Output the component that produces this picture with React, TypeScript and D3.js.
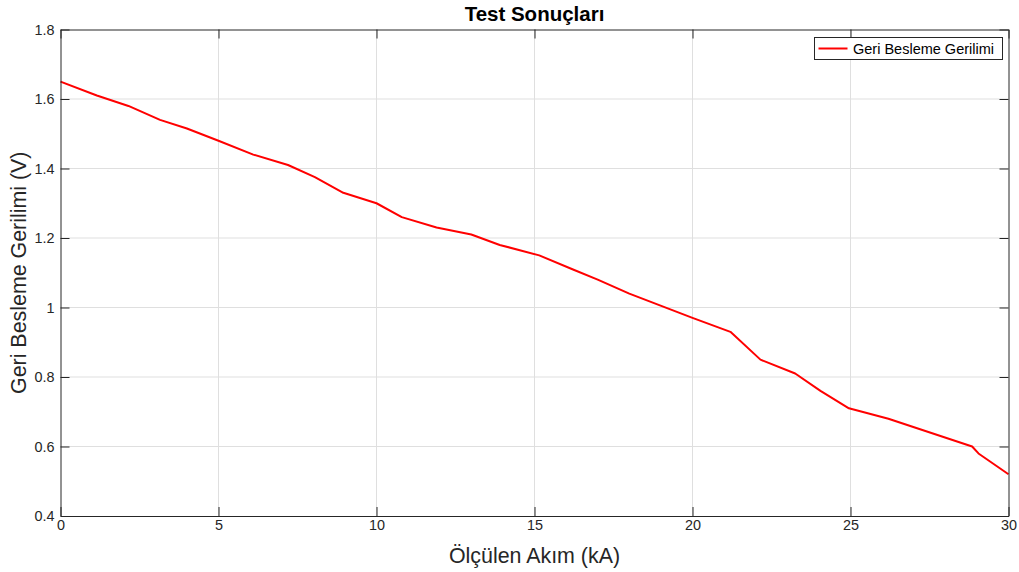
import React, { useEffect, useRef } from 'react';
import * as d3 from 'd3';

const current = [0, 1.15, 2.15, 3.15, 4.0, 5.0, 6.1, 7.2, 8.05, 8.95, 10.0, 10.8, 11.9, 13.0, 13.9, 15.15, 16.2, 17.0, 18.0, 20.0, 21.2, 22.15, 23.25, 24.05, 24.95, 26.2, 28.85, 29.05, 30.0];
const voltage = [1.65, 1.61, 1.58, 1.54, 1.515, 1.48, 1.44, 1.41, 1.375, 1.33, 1.30, 1.26, 1.23, 1.21, 1.18, 1.15, 1.11, 1.08, 1.04, 0.97, 0.93, 0.85, 0.81, 0.76, 0.71, 0.68, 0.60, 0.58, 0.52];
const xTicks = [0, 5, 10, 15, 20, 25, 30];
const yTicks = [0.4, 0.6, 0.8, 1.0, 1.2, 1.4, 1.6, 1.8];
const seriesName = 'Geri Besleme Gerilimi';

const App = () => {
  const ref = useRef<SVGSVGElement>(null);

  const width = 1019;
  const height = 572;
  const margin = { top: 29.5, right: 10.5, bottom: 56, left: 60.5 };
  const innerW = width - margin.left - margin.right;
  const innerH = height - margin.top - margin.bottom;

  useEffect(() => {
    const svg = d3.select(ref.current);
    svg.selectAll('*').remove();

    const font = 'Liberation Sans, Arial, Helvetica, sans-serif';
    const axisColor = '#262626';

    const x = d3.scaleLinear().domain([0, 30]).range([0, innerW]);
    const y = d3.scaleLinear().domain([0.4, 1.8]).range([innerH, 0]);

    const g = svg.append('g')
      .attr('transform', 'translate(' + margin.left + ',' + margin.top + ')');

    // grid
    g.append('g').selectAll('line.vx')
      .data(xTicks.slice(1, -1))
      .enter().append('line')
      .attr('x1', d => x(d)).attr('x2', d => x(d))
      .attr('y1', 0).attr('y2', innerH)
      .attr('stroke', '#dfdfdf').attr('stroke-width', 1);
    g.append('g').selectAll('line.hy')
      .data(yTicks.slice(1, -1))
      .enter().append('line')
      .attr('x1', 0).attr('x2', innerW)
      .attr('y1', d => y(d)).attr('y2', d => y(d))
      .attr('stroke', '#dfdfdf').attr('stroke-width', 1);

    // data line
    const pts: [number, number][] = current.map((c, i) => [c, voltage[i]]);
    const line = d3.line<[number, number]>()
      .x(d => x(d[0]))
      .y(d => y(d[1]));
    g.append('path')
      .datum(pts)
      .attr('d', line)
      .attr('fill', 'none')
      .attr('stroke', '#ff0000')
      .attr('stroke-width', 2)
      .attr('stroke-linejoin', 'round');

    // axes (ticks inside, MATLAB style box)
    const tick = 9;
    const bottom = g.append('g').attr('transform', 'translate(0,' + innerH + ')')
      .call(d3.axisBottom(x).tickValues(xTicks).tickSizeInner(-tick).tickSizeOuter(0).tickPadding(4)
        .tickFormat(d => String(d)));
    const top = g.append('g')
      .call(d3.axisTop(x).tickValues(xTicks).tickSizeInner(-tick).tickSizeOuter(0).tickFormat(() => ''));
    const left = g.append('g')
      .call(d3.axisLeft(y).tickValues(yTicks).tickSizeInner(-tick).tickSizeOuter(0).tickPadding(6)
        .tickFormat(d => d3.format('~g')(d as number)));
    const right = g.append('g').attr('transform', 'translate(' + innerW + ',0)')
      .call(d3.axisRight(y).tickValues(yTicks).tickSizeInner(-tick).tickSizeOuter(0).tickFormat(() => ''));

    [bottom, top, left, right].forEach(a => {
      a.selectAll('path').attr('stroke', axisColor).attr('stroke-width', 1);
      a.selectAll('line').attr('stroke', axisColor).attr('stroke-width', 1);
      a.selectAll('text')
        .attr('fill', axisColor)
        .style('font-family', font)
        .style('font-size', '14.4px');
    });
    bottom.selectAll('text').attr('dy', '0.71em').attr('y', 4);

    // title and labels
    svg.append('text')
      .attr('x', margin.left + innerW / 2)
      .attr('y', 21)
      .attr('text-anchor', 'middle')
      .style('font-family', font)
      .style('font-size', '20.5px')
      .style('font-weight', 'bold')
      .attr('fill', '#000')
      .text('Test Sonuçları');

    svg.append('text')
      .attr('x', margin.left + innerW / 2)
      .attr('y', 563)
      .attr('text-anchor', 'middle')
      .style('font-family', font)
      .style('font-size', '21.4px')
      .attr('fill', axisColor)
      .text('Ölçülen Akım (kA)');

    svg.append('text')
      .attr('transform', 'translate(18.5,' + (margin.top + innerH / 2) + ') rotate(-90)')
      .attr('text-anchor', 'middle')
      .attr('dy', '0.35em')
      .style('font-family', font)
      .style('font-size', '21.4px')
      .attr('fill', axisColor)
      .text('Geri Besleme Gerilimi (V)');

    // legend
    const lg = svg.append('g').attr('transform', 'translate(814.5,37.5)');
    lg.append('rect')
      .attr('width', 188).attr('height', 22)
      .attr('fill', '#fff')
      .attr('stroke', axisColor).attr('stroke-width', 1);
    lg.append('line')
      .attr('x1', 4).attr('x2', 33).attr('y1', 11).attr('y2', 11)
      .attr('stroke', '#ff0000').attr('stroke-width', 2);
    lg.append('text')
      .attr('x', 38.5).attr('y', 11).attr('dy', '0.35em')
      .style('font-family', font)
      .style('font-size', '14.5px')
      .attr('fill', '#000')
      .text(seriesName);
  }, []);

  return (
    <svg ref={ref} width={width} height={height}
      style={{ position: 'absolute', left: 0, top: 0, background: '#fff' }} />
  );
};

export default App;
